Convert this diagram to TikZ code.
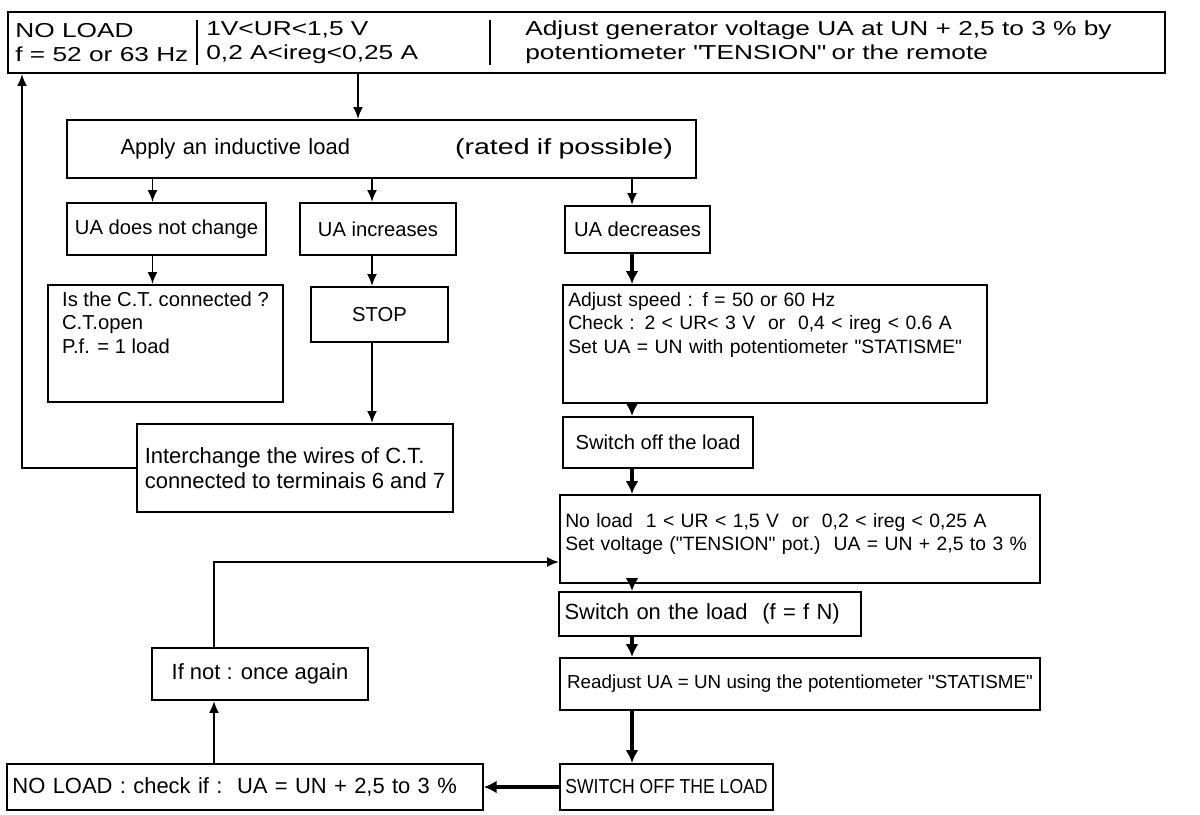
\documentclass[tikz,border=0pt]{standalone}
\usepackage{fontspec}
\setmainfont{Liberation Sans}
\newfontfamily\widefont[FakeStretch=1.3]{Liberation Sans}
\newfontfamily\narrowfont[FakeStretch=0.87]{Liberation Sans}
\usetikzlibrary{arrows.meta,calc}

\newcommand{\qq}{\textquotedbl}

\begin{document}
\begin{tikzpicture}[
        box/.style={draw, line width=1.1pt, inner sep=3pt, align=left, font=\fontsize{11.5}{13.5}\selectfont},
        txt/.style={inner sep=0pt, align=left, font=\widefont\fontsize{11.5}{13.5}\selectfont},
        mid/.style={font=\fontsize{11}{13.5}\selectfont},
        big/.style={font=\fontsize{12.5}{14}\selectfont},
        arr/.style={line width=1.1pt, -{Latex[length=2.4mm,width=2mm]}},
        fat/.style={line width=2.2pt, -{Latex[length=2.6mm,width=2.6mm]}}
    ]
    \useasboundingbox (0,0) rectangle (24,-16.28);

    % column x positions of the connectors
    \coordinate (c0) at (0.44,0);
    \coordinate (c1) at (3.05,0);
    \coordinate (c2) at (7.44,0);
    \coordinate (c3) at (12.64,0);
    \coordinate (c4) at (4.28,0);
    \coordinate (ct) at (7.16,0);

    % top box
    \node[box, minimum width=23.14cm, minimum height=1.22cm] (noload) at (11.73,-0.85) {};
    \node[txt, anchor=west] (nl1) at (0.3,-0.85) {NO LOAD\\f = 52 or 63 Hz};
    \node[txt, anchor=west] (nl2) at (4.12,-0.85) {1V<UR<1,5 V\\0,2 A<ireg<0,25 A};
    \node[txt, anchor=west] (nl3) at (10.5,-0.85)
        {Adjust generator voltage UA at UN + 2,5 to 3 \% by\\potentiometer \qq TENSION\qq\ or the remote};
    \draw[line width=1.1pt] (3.94,-0.4) -- (3.94,-1.3);
    \draw[line width=1.1pt] (9.8,-0.4) -- (9.8,-1.3);

    \node[box, big, minimum width=12.54cm, minimum height=1.16cm, text width=12.36cm] (apply) at (7.63,-2.98)
        {\hspace*{0.96cm}Apply an inductive load\hspace{2.1cm}{\widefont(rated if possible)}};

    \node[box, minimum width=3.98cm, minimum height=1.04cm] (uasame) at (3.33,-4.58) {UA does not change};
    \node[box, minimum width=3.12cm, minimum height=1.04cm] (uainc) at (7.56,-4.58) {UA increases};
    \node[box, minimum width=2.9cm, minimum height=0.94cm] (uadec) at (12.75,-4.59) {UA decreases};

    \node[box, minimum width=4.7cm, minimum height=2.34cm] (ctcheck) at (3.31,-6.87)
        {Is the C.T. connected ?\\C.T.open\\P.f. = 1 load\rule[-24pt]{0pt}{1pt}};
    \node[box, minimum width=2.74cm, minimum height=1.1cm] (stop) at (7.59,-6.29) {STOP};
    \node[box, mid, minimum width=8.48cm, minimum height=2.36cm, text width=8.27cm] (speed) at (15.5,-6.88)
        {Adjust speed : f = 50 or 60 Hz\\Check : 2 < UR< 3 V\ \ or\ \ 0,4 < ireg < 0.6 A\\Set UA = UN with potentiometer \qq STATISME\qq\rule[-24pt]{0pt}{1pt}};

    \node[box, big, minimum width=6.32cm, minimum height=1.76cm] (swap) at (5.9,-9.36)
        {Interchange the wires of C.T.\\connected to terminais 6 and 7};
    \node[box, minimum width=3.8cm, minimum height=1.02cm] (offa) at (13.16,-8.85) {Switch off the load};

    \node[box, mid, minimum width=9.6cm, minimum height=1.76cm, text width=9.39cm] (noload2) at (16,-10.78)
        {No load\ \ 1 < UR < 1,5 V\ \ or\ \ 0,2 < ireg < 0,25 A\\Set voltage (\qq TENSION\qq\ pot.)\ \ UA = UN + 2,5 to 3 \%\rule[-8pt]{0pt}{1pt}};
    \node[box, big, minimum width=6cm, minimum height=0.88cm, text width=5.82cm] (swon) at (14.2,-12.28)
        {Switch on the load\ \ (f = f N)};
    \node[box, font=\fontsize{10.7}{13.5}\selectfont, minimum width=9.6cm, minimum height=1.04cm] (readj) at (16,-13.68)
        {Readjust UA = UN using the potentiometer \qq STATISME\qq};
    \node[box, font=\narrowfont\fontsize{11.5}{13.5}\selectfont, minimum width=4.14cm, minimum height=0.92cm] (offb) at (13.33,-15.74)
        {SWITCH OFF THE LOAD};

    \node[box, big, minimum width=9.48cm, minimum height=0.92cm, text width=9.3cm] (check) at (4.9,-15.74)
        {NO LOAD : check if :\ \ UA = UN + 2,5 to 3 \%};
    \node[box, big, minimum width=4.32cm, minimum height=1.04cm] (ifnot) at (5.2,-13.48) {If not : once again};

    % connectors
    \draw[arr] (noload.south -| ct) -- (apply.north -| ct);
    \draw[arr] (apply.south -| c1) -- (uasame.north -| c1);
    \draw[arr] (apply.south -| c2) -- (uainc.north -| c2);
    \draw[arr] (apply.south -| c3) -- (uadec.north -| c3);
    \draw[arr] (uasame.south -| c1) -- (ctcheck.north -| c1);
    \draw[arr] (uainc.south -| c2) -- (stop.north -| c2);
    \draw[arr] (stop.south -| c2) -- (swap.north -| c2);
    \draw[arr] (swap.west) -| (noload.south -| c0);

    \draw[fat] (uadec.south -| c3) -- (speed.north -| c3);
    \draw[fat] (speed.south -| c3) -- (offa.north -| c3);
    \draw[fat] (offa.south -| c3) -- (noload2.north -| c3);
    \draw[fat] (noload2.south -| c3) -- (swon.north -| c3);
    \draw[fat] (swon.south -| c3) -- (readj.north -| c3);
    \draw[fat] (readj.south -| c3) -- (offb.north -| c3);
    \draw[fat] (offb.west) -- (check.east);

    \draw[arr] (check.north -| c4) -- (ifnot.south -| c4);
    \draw[arr] (ifnot.north -| c4) |- ([yshift=-0.46cm]noload2.west);
\end{tikzpicture}
\end{document}
